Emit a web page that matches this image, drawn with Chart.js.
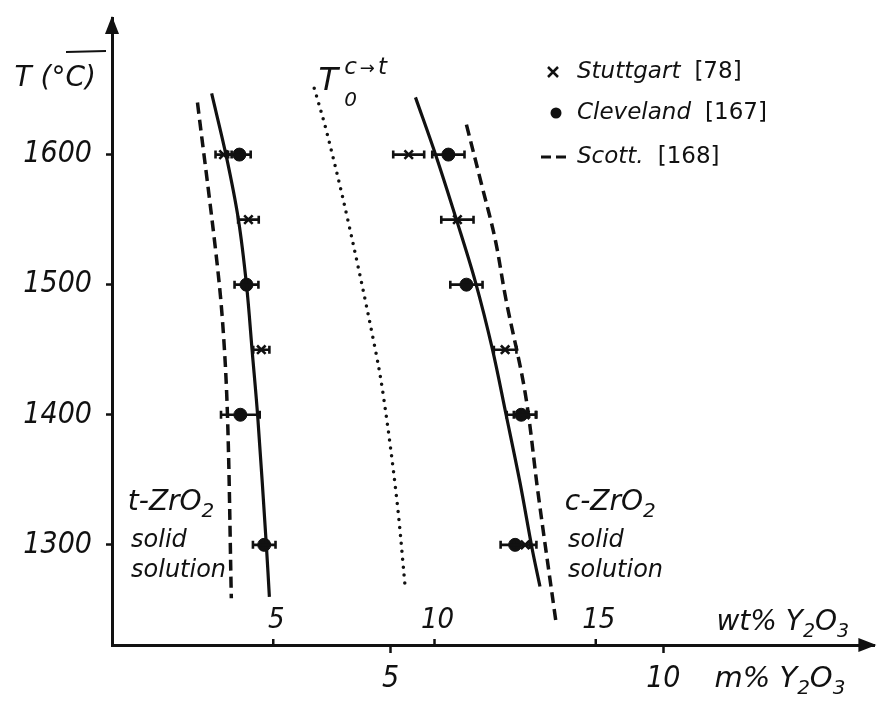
<!DOCTYPE html>
<html>
<head>
<meta charset="utf-8">
<script src="https://cdn.jsdelivr.net/npm/chart.js@4/dist/chart.umd.min.js"></script>
<style>
  html, body { margin: 0; padding: 0; background: #fff; }
</style>
</head>
<body>
<canvas id="phaseChart" width="883" height="709"></canvas>
<script>
// phase boundaries, wt% Y2O3 against T in degC
const tBoundaryT  = [1647, 1598, 1550, 1500, 1448, 1398, 1298, 1260];
const tBoundaryWt = [3.09, 3.55, 3.92, 4.17, 4.35, 4.52, 4.79, 4.88];
const cBoundaryT  = [1644, 1598, 1550, 1502, 1451, 1400, 1348, 1298, 1268];
const cBoundaryWt = [9.41, 10.06, 10.68, 11.27, 11.79, 12.22, 12.65, 13.02, 13.27];
const scottTT  = [1640, 1527, 1471, 1400, 1259];
const scottTWt = [2.65, 3.21, 3.43, 3.58, 3.70];
const scottCT  = [1623, 1578, 1535, 1488, 1417, 1340, 1240];
const scottCWt = [10.99, 11.45, 11.88, 12.22, 12.81, 13.21, 13.77];
const t0T  = [1651, 1619, 1550, 1452, 1412, 1335, 1265];
const t0Wt = [6.27, 6.64, 7.31, 8.15, 8.43, 8.83, 9.10];

// measured points with horizontal error (wt%)
const stuttgartT   = [1600, 1550, 1450, 1600, 1550, 1450, 1400, 1300];
const stuttgartWt  = [3.46, 4.23, 4.63, 9.20, 10.71, 12.19, 12.81, 12.81];
const stuttgartErr = [0.25, 0.32, 0.25, 0.48, 0.50, 0.35, 0.35, 0.35];
const clevelandT   = [1600, 1500, 1400, 1300, 1600, 1500, 1400, 1300];
const clevelandWt  = [3.95, 4.17, 3.98, 4.72, 10.43, 10.99, 12.69, 12.50];
const clevelandErr = [0.35, 0.37, 0.60, 0.35, 0.50, 0.50, 0.45, 0.45];

const tempTicks = [1300, 1400, 1500, 1600];
const wtTicks = [5, 10, 15];
const molTicks = [5, 10];

const legendNames = ['Stuttgart', 'Cleveland', 'Scott.'];
const legendRefs = ['[78]', '[167]', '[168]'];

const ink = '#111';
const SANS = "'DejaVu Sans', sans-serif";
const NARROW = "'DejaVu Sans Condensed', 'DejaVu Sans', sans-serif";

const pts = (xs, ys) => xs.map((x, i) => ({ x: x, y: ys[i] }));

function curve(label, wt, T, dash, width) {
  return {
    label: label, data: pts(wt, T), showLine: true, pointRadius: 0,
    borderColor: ink, borderWidth: width, borderDash: dash, tension: 0.35
  };
}

// text runs with sub/superscripts
function drawRich(ctx, x, y, segs) {
  let cx = x;
  segs.forEach(s => {
    ctx.font = (s.italic === false ? '' : 'italic ') + s.size + 'px ' + (s.family || SANS);
    ctx.fillText(s.text, cx, y + (s.dy || 0));
    cx += ctx.measureText(s.text).width + (s.gap || 0);
  });
}

const errorBars = {
  id: 'errorBars',
  afterDatasetsDraw(chart) {
    const ctx = chart.ctx, xs = chart.scales.x, ys = chart.scales.y;
    ctx.save();
    ctx.strokeStyle = ink;
    ctx.lineWidth = 2.6;
    chart.data.datasets.forEach(ds => {
      if (!ds.errors) return;
      ds.data.forEach((p, i) => {
        const e = ds.errors[i];
        const y = ys.getPixelForValue(p.y);
        const x0 = xs.getPixelForValue(p.x - e), x1 = xs.getPixelForValue(p.x + e);
        ctx.beginPath();
        ctx.moveTo(x0, y); ctx.lineTo(x1, y);
        ctx.moveTo(x0, y - 4); ctx.lineTo(x0, y + 4);
        ctx.moveTo(x1, y - 4); ctx.lineTo(x1, y + 4);
        ctx.stroke();
      });
    });
    ctx.restore();
  }
};

const decorations = {
  id: 'decorations',
  afterDraw(chart) {
    const ctx = chart.ctx, a = chart.chartArea;
    const xs = chart.scales.x, ys = chart.scales.y;
    const px = v => xs.getPixelForValue(v), py = v => ys.getPixelForValue(v);
    ctx.save();
    ctx.fillStyle = ink;
    ctx.strokeStyle = ink;

    // axis arrows
    ctx.beginPath();
    ctx.moveTo(a.left, a.top - 2);
    ctx.lineTo(a.left - 7, a.top + 16);
    ctx.lineTo(a.left + 7, a.top + 16);
    ctx.closePath();
    ctx.fill();
    ctx.beginPath();
    ctx.moveTo(a.right + 2, a.bottom);
    ctx.lineTo(a.right - 16, a.bottom - 7);
    ctx.lineTo(a.right - 16, a.bottom + 7);
    ctx.closePath();
    ctx.fill();

    // wt% ticks sit above the axis line
    ctx.lineWidth = 2.5;
    ctx.textAlign = 'center';
    ctx.textBaseline = 'middle';
    ctx.font = 'italic 29px ' + NARROW;
    wtTicks.forEach(v => {
      const x = px(v);
      ctx.beginPath();
      ctx.moveTo(x, a.bottom);
      ctx.lineTo(x, a.bottom - 6);
      ctx.stroke();
      ctx.fillText(String(v), x + 3, a.bottom - 25);
    });

    ctx.textAlign = 'left';
    ctx.textBaseline = 'alphabetic';
    drawRich(ctx, a.right - 158, a.bottom - 15, [
      { text: 'wt% Y', size: 28 }, { text: '2', size: 19, dy: 7 }, { text: 'O', size: 28 }, { text: '3', size: 19, dy: 7 }
    ]);
    drawRich(ctx, a.right - 160, a.bottom + 42, [
      { text: 'm% Y', size: 29 }, { text: '2', size: 20, dy: 7 }, { text: 'O', size: 29 }, { text: '3', size: 20, dy: 7 }
    ]);

    // axis title
    ctx.textAlign = 'right';
    ctx.font = 'italic 28px ' + SANS;
    ctx.fillText('T (°C)', a.left - 16, 86);
    ctx.lineWidth = 2;
    ctx.beginPath();
    ctx.moveTo(a.left - 46, 52);
    ctx.lineTo(a.left - 6, 51);
    ctx.stroke();
    ctx.textAlign = 'left';

    // phase labels
    [[0.49, 't'], [14.04, 'c']].forEach(([w, k]) => {
      drawRich(ctx, px(w), py(1327), [
        { text: k + '-ZrO', size: 28 }, { text: '2', size: 20, dy: 7 }
      ]);
      drawRich(ctx, px(w + 0.1), py(1298), [{ text: 'solid', size: 24 }]);
      drawRich(ctx, px(w + 0.1), py(1275), [{ text: 'solution', size: 24 }]);
    });

    // T0 c->t label
    drawRich(ctx, px(6.4), py(1650), [{ text: 'T', size: 32 }]);
    drawRich(ctx, px(7.2), py(1662), [
      { text: 'c', size: 23, gap: 3 }, { text: '→', size: 18, italic: false, gap: 3 }, { text: 't', size: 23 }
    ]);
    drawRich(ctx, px(7.2), py(1637), [{ text: '0', size: 20 }]);

    // legend
    const lx = 577, rows = [72, 113, 157];
    ctx.lineWidth = 2.5;
    ctx.beginPath();
    ctx.moveTo(548, rows[0] - 5); ctx.lineTo(558, rows[0] + 5);
    ctx.moveTo(558, rows[0] - 5); ctx.lineTo(548, rows[0] + 5);
    ctx.stroke();
    ctx.beginPath();
    ctx.arc(556, rows[1], 5.5, 0, Math.PI * 2);
    ctx.fill();
    ctx.lineWidth = 3;
    ctx.beginPath();
    ctx.moveTo(541, rows[2]); ctx.lineTo(551, rows[2]);
    ctx.moveTo(556, rows[2]); ctx.lineTo(566, rows[2]);
    ctx.stroke();
    ctx.textBaseline = 'middle';
    legendNames.forEach((n, i) => {
      ctx.font = 'italic 23px ' + SANS;
      ctx.fillText(n, lx, rows[i]);
      const w = ctx.measureText(n).width;
      ctx.font = '23px ' + SANS;
      ctx.fillText(legendRefs[i], lx + w + 14, rows[i]);
    });
    ctx.restore();
  }
};

const tickFont = { family: NARROW, size: 30, style: 'italic' };

const ctx = document.getElementById('phaseChart').getContext('2d');
new Chart(ctx, {
  type: 'scatter',
  data: {
    datasets: [
      curve('t boundary', tBoundaryWt, tBoundaryT, [], 3.2),
      curve('c boundary', cBoundaryWt, cBoundaryT, [], 3.2),
      curve('Scott t', scottTWt, scottTT, [11, 6], 3.5),
      curve('Scott c', scottCWt, scottCT, [11, 6], 3.5),
      Object.assign(curve('T0', t0Wt, t0T, [0, 8], 3.5), { borderCapStyle: 'round' }),
      {
        label: 'Stuttgart', data: pts(stuttgartWt, stuttgartT), errors: stuttgartErr,
        pointStyle: 'crossRot', pointRadius: 6, borderColor: ink, borderWidth: 2.6, backgroundColor: ink
      },
      {
        label: 'Cleveland', data: pts(clevelandWt, clevelandT), errors: clevelandErr,
        pointStyle: 'circle', pointRadius: 6.5, borderColor: ink, borderWidth: 1, backgroundColor: ink
      }
    ]
  },
  options: {
    responsive: false,
    animation: false,
    layout: { padding: { top: 18, right: 5, left: 0, bottom: 0 } },
    plugins: { legend: { display: false }, tooltip: { enabled: false } },
    scales: {
      x: { type: 'linear', position: 'bottom', min: 0, max: 23.64, display: false },
      mol: {
        type: 'linear', position: 'bottom', min: -0.11, max: 13.87,
        afterBuildTicks: s => { s.ticks = molTicks.map(v => ({ value: v })); },
        afterFit: s => { s.height = 64; s.paddingLeft = 0; s.paddingRight = 0; },
        border: { color: ink, width: 3 },
        grid: { drawOnChartArea: false, tickLength: 8, tickWidth: 2.5, tickColor: ink },
        ticks: { color: ink, padding: 8, maxRotation: 0, font: tickFont, callback: v => String(v) }
      },
      y: {
        type: 'linear', min: 1223, max: 1705,
        afterBuildTicks: s => { s.ticks = tempTicks.map(v => ({ value: v })); },
        afterFit: s => { s.width = 112; s.paddingTop = 0; s.paddingBottom = 0; },
        border: { color: ink, width: 3 },
        grid: { drawOnChartArea: false, tickLength: 6, tickWidth: 2.5, tickColor: ink },
        ticks: { color: ink, padding: 14, font: tickFont, callback: v => String(v) }
      }
    }
  },
  plugins: [errorBars, decorations]
});
</script>
</body>
</html>
